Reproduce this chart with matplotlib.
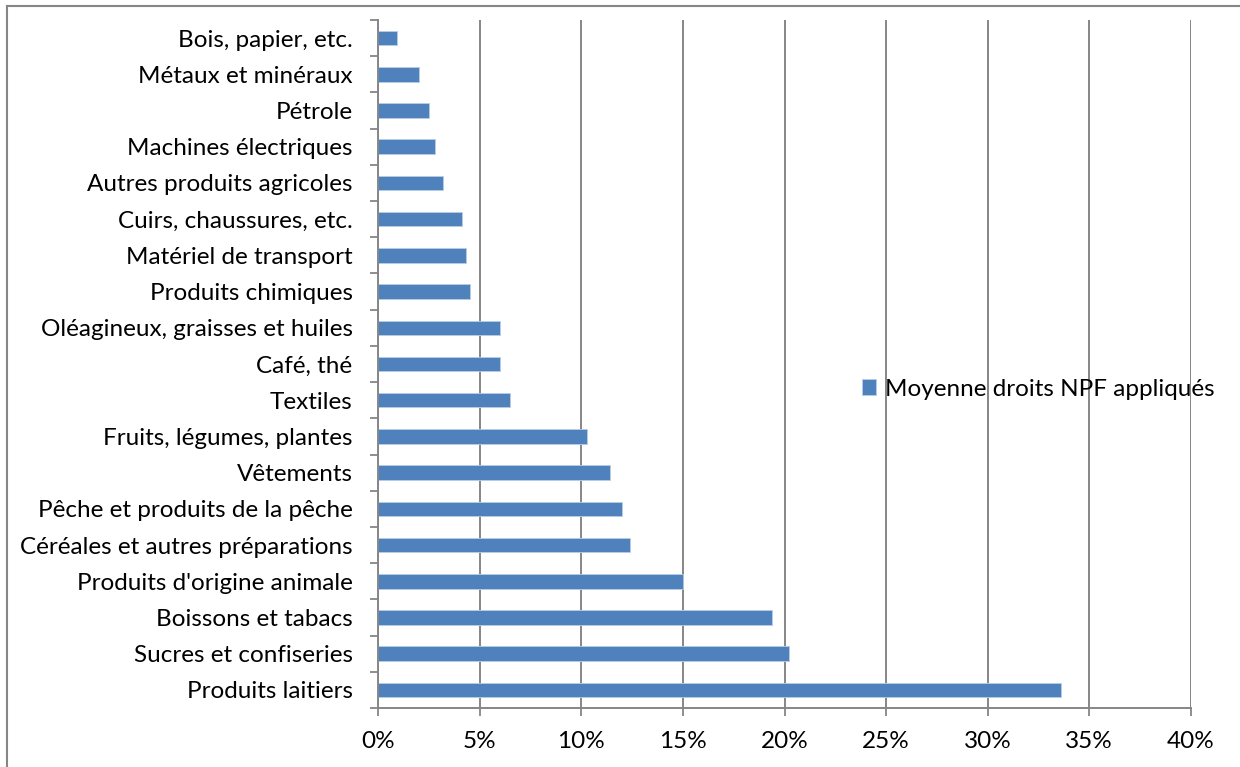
import numpy as np
import matplotlib.pyplot as plt
from matplotlib.ticker import FixedLocator, NullFormatter, FixedFormatter

# categories, top to bottom as in the chart
categories = ['Bois, papier, etc.', 'Métaux et minéraux', 'Pétrole',
              'Machines électriques', 'Autres produits agricoles',
              'Cuirs, chaussures, etc.', 'Matériel de transport',
              'Produits chimiques', 'Oléagineux, graisses et huiles',
              'Café, thé', 'Textiles', 'Fruits, légumes, plantes',
              'Vêtements', 'Pêche et produits de la pêche',
              'Céréales et autres préparations', "Produits d'origine animale",
              'Boissons et tabacs', 'Sucres et confiseries', 'Produits laitiers']
values = [0.9, 2.0, 2.5, 2.8, 3.2, 4.1, 4.3, 4.5, 6.0, 6.0, 6.5,
          10.3, 11.4, 12.0, 12.4, 15.0, 19.4, 20.2, 33.6]
xticks = [0, 5, 10, 15, 20, 25, 30, 35, 40]
series_name = 'Moyenne droits NPF appliqués'

plt.rcParams['font.family'] = ['Lato', 'DejaVu Sans']
fs = 17.5
grey = '#868686'

fig = plt.figure(figsize=(12.4, 7.67), dpi=100)
ax = fig.add_axes([378.3 / 1240, 1 - 708 / 767, 812.4 / 1240, 688 / 767])

n = len(categories)
pos = np.arange(n)
ax.barh(pos, values, height=0.4, color='#4F81BD', edgecolor='#B9CDE5',
        linewidth=0.6, label=series_name, zorder=3)

ax.set_ylim(n - 0.5, -0.5)
ax.set_xlim(0, 40)

# y: ticks at category boundaries, labels at centres
ax.yaxis.set_major_locator(FixedLocator(np.arange(n + 1) - 0.5))
ax.yaxis.set_major_formatter(NullFormatter())
ax.yaxis.set_minor_locator(FixedLocator(pos))
ax.yaxis.set_minor_formatter(FixedFormatter(categories))
ax.tick_params(axis='y', which='major', length=5.5, width=1.3, color=grey, direction='out')
ax.tick_params(axis='y', which='minor', length=0, pad=18.5, labelsize=fs)

ax.set_xticks(xticks)
ax.set_xticklabels(['{}%'.format(t) for t in xticks])
ax.tick_params(axis='x', length=5.5, width=1.3, color=grey, pad=11, labelsize=fs)

ax.grid(axis='x', color=grey, linewidth=1.4, zorder=0)
ax.set_axisbelow(True)
for s in ['top', 'right']:
    ax.spines[s].set_visible(False)
for s in ['left', 'bottom']:
    ax.spines[s].set_color(grey)
    ax.spines[s].set_linewidth(1.4)
ax.spines['left'].set_zorder(4)

leg = fig.legend(loc='center left', bbox_to_anchor=(852 / 1240, 1 - 389 / 767),
                 frameon=False, fontsize=fs, handlelength=0.6, handleheight=0.6,
                 handletextpad=0.35, borderaxespad=0)

# outer chart border (only top and left edges fall inside the image)
fig.add_artist(plt.Line2D([7 / 1240, 1], [1 - 6 / 767] * 2, color=grey, linewidth=1.5))
fig.add_artist(plt.Line2D([7 / 1240] * 2, [0, 1 - 6 / 767], color=grey, linewidth=1.5))

fig.savefig('out.png', dpi=100)
